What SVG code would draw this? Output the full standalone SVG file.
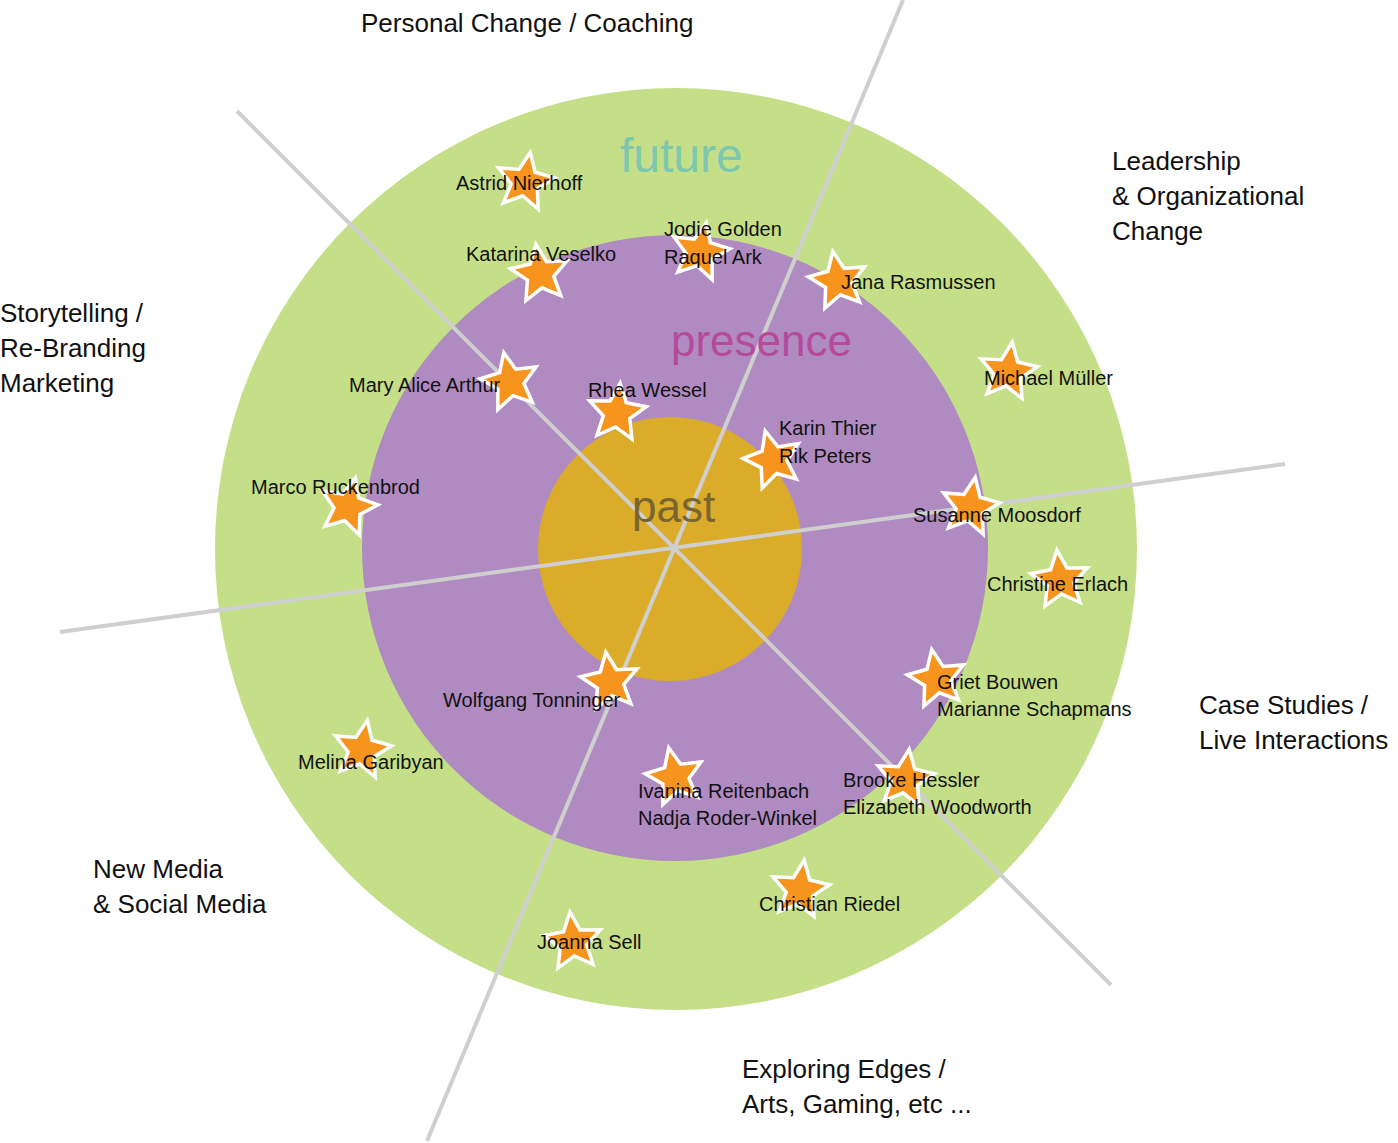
<svg xmlns="http://www.w3.org/2000/svg" xmlns:xlink="http://www.w3.org/1999/xlink" width="1398" height="1143" viewBox="0 0 1398 1143">
<style>
text{font-family:"Liberation Sans",Arial,sans-serif;fill:#111}
.n{font-size:20px}
.c{font-size:26px}
.ax{stroke:#cfcfcf;stroke-width:4}
.st{fill:#f7941d;stroke:#fff;stroke-width:3.5;stroke-linejoin:miter}
</style>
<defs>
<path id="star" class="st" d="M0,-30 L8.2,-11.3 L28.5,-9.3 L13.3,4.3 L17.6,24.3 L0,14 L-17.6,24.3 L-13.3,4.3 L-28.5,-9.3 L-8.2,-11.3 Z"/>
</defs>
<g id="rings">
<circle cx="676" cy="549" r="461" fill="#c5df88"/>
<circle cx="675" cy="548" r="313" fill="#b08bc1"/>
<circle cx="670" cy="549" r="132" fill="#dbab2a"/>
</g>
<g id="connectors">
<line class="ax" x1="237" y1="111" x2="1111" y2="985"/>
<line class="ax" x1="903" y1="0" x2="427" y2="1141"/>
<line class="ax" x1="60" y1="632" x2="1285" y2="464"/>
</g>
<g id="ring-labels">
<text x="620" y="172" style="font-size:48px;fill:#7cc7b0">future</text>
<text x="671" y="356" style="font-size:44px;fill:#b54a9c">presence</text>
<text x="632" y="522" style="font-size:44px;fill:#7a6530">past</text>
</g>
<g id="stars">
<use xlink:href="#star" transform="translate(525,182) rotate(10)"/>
<use xlink:href="#star" transform="translate(540,274) rotate(-8)"/>
<use xlink:href="#star" transform="translate(700,252) rotate(12)"/>
<use xlink:href="#star" transform="translate(838,281) rotate(-10)"/>
<use xlink:href="#star" transform="translate(1008,372) rotate(8)"/>
<use xlink:href="#star" transform="translate(510,382) rotate(-12)"/>
<use xlink:href="#star" transform="translate(617,413) rotate(6)"/>
<use xlink:href="#star" transform="translate(773,460) rotate(-15)"/>
<use xlink:href="#star" transform="translate(970,507) rotate(10)"/>
<use xlink:href="#star" transform="translate(1060,580) rotate(-6)"/>
<use xlink:href="#star" transform="translate(348,507) rotate(14)"/>
<use xlink:href="#star" transform="translate(937,679) rotate(-10)"/>
<use xlink:href="#star" transform="translate(905,779) rotate(8)"/>
<use xlink:href="#star" transform="translate(610,682) rotate(-8)"/>
<use xlink:href="#star" transform="translate(362,750) rotate(10)"/>
<use xlink:href="#star" transform="translate(675,777) rotate(-12)"/>
<use xlink:href="#star" transform="translate(800,890) rotate(8)"/>
<use xlink:href="#star" transform="translate(573,942) rotate(-6)"/>
</g>
<g id="names" class="n">
<text class="n" x="456" y="190">Astrid Nierhoff</text>
<text class="n" x="466" y="261">Katarina Veselko</text>
<text class="n" x="664" y="236">Jodie Golden</text>
<text class="n" x="664" y="264">Raquel Ark</text>
<text class="n" x="841" y="289">Jana Rasmussen</text>
<text class="n" x="984" y="385">Michael Müller</text>
<text class="n" x="349" y="392">Mary Alice Arthur</text>
<text class="n" x="588" y="397">Rhea Wessel</text>
<text class="n" x="779" y="435">Karin Thier</text>
<text class="n" x="779" y="463">Rik Peters</text>
<text class="n" x="913" y="522">Susanne Moosdorf</text>
<text class="n" x="987" y="591">Christine Erlach</text>
<text class="n" x="251" y="494">Marco Ruckenbrod</text>
<text class="n" x="937" y="689">Griet Bouwen</text>
<text class="n" x="937" y="716">Marianne Schapmans</text>
<text class="n" x="843" y="787">Brooke Hessler</text>
<text class="n" x="843" y="814">Elizabeth Woodworth</text>
<text class="n" x="443" y="707">Wolfgang Tonninger</text>
<text class="n" x="298" y="769">Melina Garibyan</text>
<text class="n" x="638" y="798">Ivanina Reitenbach</text>
<text class="n" x="638" y="825">Nadja Roder-Winkel</text>
<text class="n" x="759" y="911">Christian Riedel</text>
<text class="n" x="537" y="949">Joanna Sell</text>
</g>
<g id="categories">
<text class="c" x="361" y="32">Personal Change / Coaching</text>
<text class="c" x="1112" y="170">Leadership</text>
<text class="c" x="1112" y="205">&amp; Organizational</text>
<text class="c" x="1112" y="240">Change</text>
<text class="c" x="0" y="322">Storytelling /</text>
<text class="c" x="0" y="357">Re-Branding</text>
<text class="c" x="0" y="392">Marketing</text>
<text class="c" x="1199" y="714">Case Studies /</text>
<text class="c" x="1199" y="749">Live Interactions</text>
<text class="c" x="93" y="878">New Media</text>
<text class="c" x="93" y="913">&amp; Social Media</text>
<text class="c" x="742" y="1078">Exploring Edges /</text>
<text class="c" x="742" y="1113">Arts, Gaming, etc ...</text>
</g>
</svg>
